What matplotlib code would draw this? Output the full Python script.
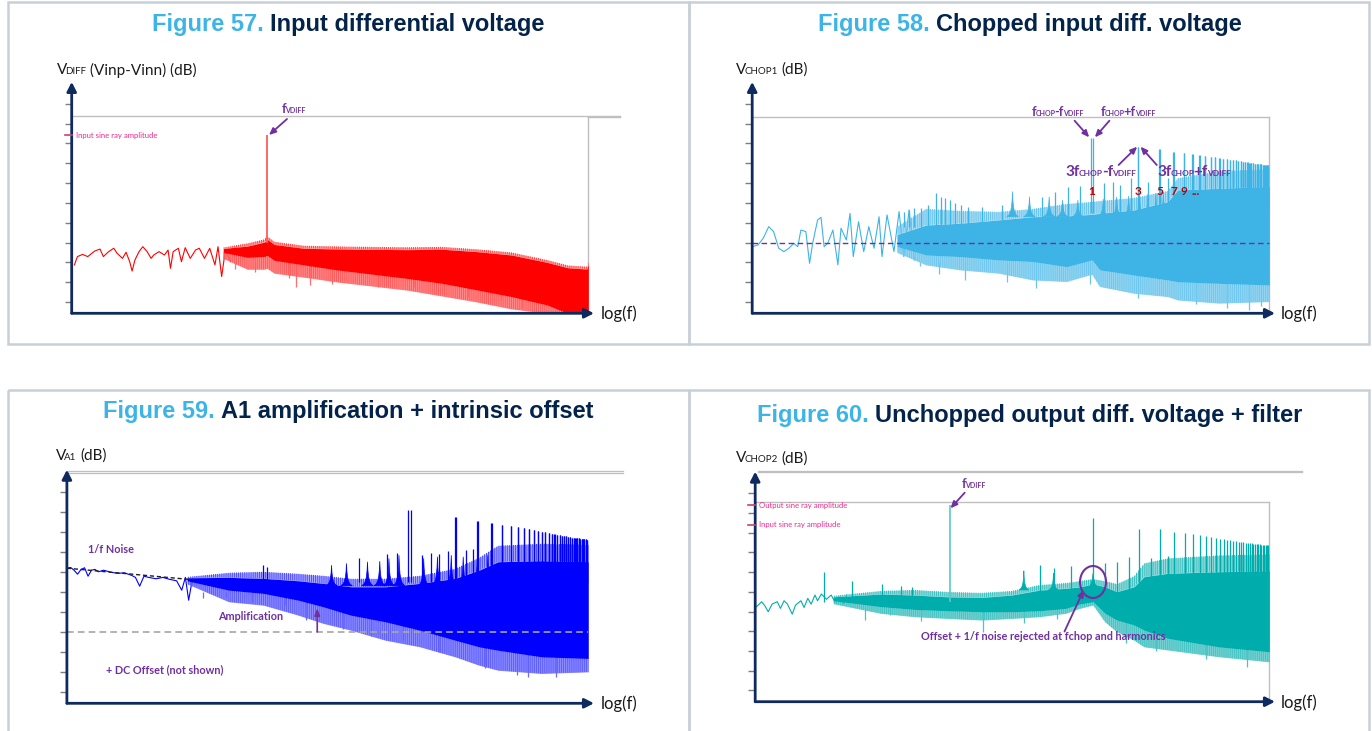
import numpy as np
import matplotlib
matplotlib.use("Agg")
import matplotlib.pyplot as plt
from matplotlib import transforms
from matplotlib.patches import Ellipse, Rectangle
from matplotlib.ticker import NullLocator

# ---------------------------------------------------------------------------
# Shared frequency / level frame
# ---------------------------------------------------------------------------
F_CHOP = 10000.0          # chopping frequency (Hz)
F_VDIFF = 320.0           # input sine frequency (Hz)
F_AXIS = (3.0, 790000.0)  # extent of the log(f) axis
F_END = 690000.0          # last frequency bin of the spectra
DB_AXIS = (-105.7, 11.0)
TICKS_DB = [0, -10, -20, -30, -40, -50, -60, -70, -80, -90, -100]
INPUT_RAY_DB = -16.0
OUTPUT_RAY_DB = -6.0
ODD_N = [1, 3, 5, 7, 9, 11, 13, 15, 17, 19, 21, 23, 25, 27, 29, 31, 33,
         35, 37, 39, 41, 43, 45, 47, 49, 51, 53, 55, 57, 59, 61, 63, 65, 67]

# ---------------------------------------------------------------------------
# Figure 57 - input differential voltage
# ---------------------------------------------------------------------------
p1_lf_f = [3.2, 3.44, 3.89, 4.4, 5.2, 5.9, 6.4, 7.25, 8.2, 8.9, 10.1, 11.0, 12.0,
           12.7, 13.6, 15.0, 16.4, 18.2, 20.0, 21.3, 24.2, 27.5, 30.0, 31.8, 33.9,
           38.4, 41.3, 45.2, 51.0, 57.9, 63.3, 71.7, 81.2, 92.0, 99.0, 108.0, 118.0, 134.0]
p1_lf_db = [-81.3, -77.1, -76.0, -77.1, -74.3, -73.3, -77.1, -74.6, -72.9, -75.5, -78.0,
            -74.9, -79.7, -84.4, -78.8, -74.6, -72.1, -74.6, -78.0, -76.3, -74.6, -76.3,
            -73.8, -83.0, -74.6, -72.9, -79.7, -72.6, -78.0, -73.8, -72.9, -78.0, -72.9,
            -81.3, -72.1, -87.2, -73.8, -79.7]
p1_band_f = [112, 200, 300, 320, 380, 770, 1750, 9000, 21000, 48000, 110000, 257000,
             420000, 665000, 690000]
p1_band_top = [-72.5, -70.4, -68.4, -66.8, -69.6, -71.6, -72.0, -72.4, -72.2, -73.4,
               -75.0, -78.8, -81.5, -82.2, -80.0]
p1_band_hi = [-73.0, -71.8, -69.8, -68.4, -71.0, -72.9, -73.3, -73.6, -73.4, -74.6,
              -76.3, -80.0, -82.7, -83.4, -81.0]
p1_band_lo = [-75.0, -77.5, -77.0, -76.5, -79.0, -81.3, -83.9, -88.1, -90.6, -93.9,
              -97.3, -101.5, -105.7, -105.7, -105.7]
p1_band_fringe = [-78.0, -83.5, -83.5, -83.0, -85.5, -87.5, -90.0, -94.0, -97.0, -100.0,
                  -103.5, -105.7, -105.7, -105.7, -105.7]
p1_dip_f = [150, 240, 540, 645, 890, 1500, 4500, 10800, 22000, 39000, 86000, 140000]
p1_dip_db = [-83.5, -85.0, -88.1, -92.3, -91.4, -91.0, -92.3, -92.3, -96.0, -97.3, -99.0,
             -103.0]

# ---------------------------------------------------------------------------
# Figure 58 - chopped input differential voltage
# ---------------------------------------------------------------------------
p2_lf_f = [3.0, 3.45, 3.9, 4.45, 5.0, 5.65, 6.4, 7.2, 8.1, 8.9, 9.6, 10.8, 11.8, 12.7,
           14.3, 15.5, 16.7, 18.2, 20.6, 23.2, 25.0, 28.4, 31.0, 33.5, 38.0, 43.0, 48.5,
           55.0, 62.0, 66.5, 75.0, 88.5, 100, 112, 127, 144]
p2_lf_db = [-72.1, -71.2, -67.9, -62.0, -64.5, -72.9, -74.6, -72.9, -70.4, -72.1, -63.7,
            -64.5, -80.5, -70.4, -58.6, -57.3, -72.1, -70.4, -63.7, -81.3, -62.8, -68.7,
            -55.3, -77.1, -59.5, -74.6, -62.0, -72.9, -57.0, -77.1, -56.1, -74.6, -54.4,
            -77.1, -53.6, -78.8]
p2_band_f = [95, 190, 425, 1080, 2430, 5450, 10000, 12000, 27100, 61000, 77500, 206000, 690000]
p2_band_top = [-62.0, -53.0, -54.0, -54.5, -53.0, -50.5, -49.5, -49.0, -47.5, -44.0, -37.5,
               -34.0, -33.0]
p2_band_hi = [-66.0, -61.2, -60.3, -58.6, -57.0, -56.6, -55.8, -55.3, -53.6, -49.4, -43.5,
              -42.7, -41.8]
p2_band_lo = [-72.0, -76.3, -77.1, -78.8, -79.6, -82.2, -78.8, -83.8, -86.4, -88.9, -89.8,
              -90.6, -91.4]
p2_band_fringe = [-75.0, -81.3, -83.8, -85.5, -88.9, -89.7, -86.0, -92.2, -95.6, -97.3,
                  -99.0, -100.6, -99.8]
p2_lobe_f = [1500, 2250, 3600, 4950, 7140, 13100, 18000, 24000, 31000, 38000, 46000, 55000]
p2_lobe_db = [-44.3, -46.9, -46.9, -48.6, -48.6, -48.0, -47.0, -46.5, -46.0, -45.5, -45.0, -44.5]
p2_minor_f = [112, 127, 144, 170, 198, 243, 270, 298, 335, 378, 443, 520, 720, 1170, 3050,
              4100, 5650, 7500, 13200, 16600, 19600, 25200, 37700, 61000]
p2_minor_db = [-54.4, -53.6, -52.8, -52.8, -51.1, -45.2, -46.9, -47.7, -48.6, -50.2, -51.1,
               -51.9, -51.9, -51.1, -46.9, -44.3, -42.2, -41.5, -40.1, -39.3, -41.0, -37.6,
               -39.3, -37.6]
p2_dip_f = [165, 260, 480, 1300, 2600, 9500, 30000, 120000, 250000, 420000, 560000]
p2_dip_db = [-82.0, -86.0, -89.0, -90.0, -93.0, -91.0, -98.0, -101.0, -103.0, -104.0, -102.0]
p2_harm_db = [-17.5, -21.7, -23.0, -24.2, -25.0, -25.6, -26.0, -26.4, -26.8, -27.1, -27.4,
              -27.7, -28.0, -28.2, -28.4, -28.6, -28.8, -29.0, -29.2, -29.4, -29.6, -29.8,
              -30.0, -30.1, -30.2, -30.3, -30.4, -30.5, -30.6, -30.7, -30.8, -30.9, -31.0, -31.1]
p2_ref_db = -70.0

# ---------------------------------------------------------------------------
# Figure 59 - A1 amplification + intrinsic offset
# ---------------------------------------------------------------------------
p3_lf_f = [3.0, 3.27, 3.55, 3.86, 4.2, 4.56, 4.95, 5.37, 5.83, 6.33, 7.15, 8.45, 9.97, 11.7,
           13.9, 15.2, 16.8, 18.6, 20.8, 24.8, 29.1, 34.3, 40.3, 45.5, 49.6, 53.6, 58.5]
p3_lf_db = [-38.3, -37.8, -39.2, -41.2, -38.8, -38.0, -42.2, -39.2, -38.8, -40.0, -39.2,
            -40.2, -40.8, -40.5, -41.8, -42.8, -47.2, -42.2, -42.8, -43.5, -42.8, -43.8,
            -44.5, -49.2, -42.8, -54.2, -43.8]
p3_band_f = [51.5, 139, 315, 720, 1300, 2500, 5650, 12800, 29500, 52000, 81500, 229000, 690000]
p3_band_top = [-42.6, -40.5, -40.0, -41.0, -42.0, -43.5, -43.5, -42.0, -38.5, -33.0, -27.0,
               -26.0, -26.5]
p3_band_hi = [-43.0, -42.8, -43.3, -44.5, -45.8, -47.5, -47.5, -45.8, -43.3, -39.2, -35.0,
              -34.5, -35.0]
p3_band_lo = [-44.5, -49.2, -50.8, -54.2, -57.5, -61.7, -65.0, -69.2, -74.2, -77.5, -79.2,
              -82.5, -83.3]
p3_band_fringe = [-46.0, -55.0, -56.7, -61.7, -65.8, -69.2, -74.2, -77.5, -82.5, -86.7,
                  -89.2, -90.8, -90.0]
p3_lobe_f = [1580, 2250, 3700, 4950, 6150, 7800, 14000, 19400, 26900, 35700, 50000, 64000]
p3_lobe_db = [-36.7, -35.8, -35.0, -34.7, -33.3, -31.7, -33.3, -32.5, -31.7, -32.5, -31.7, -31.7]
p3_minor_f = [310, 345, 3050, 5900, 7500, 13500, 16600, 20000, 25000, 38000, 45000]
p3_minor_db = [-36.7, -37.5, -33.0, -31.0, -30.5, -31.5, -30.5, -31.0, -29.5, -29.0, -28.5]
p3_harm_db = [-9.2, -12.8, -14.7, -15.8, -16.7, -17.2, -17.8, -18.3, -18.8, -19.2, -19.6,
              -20.0, -20.3, -20.6, -20.9, -21.2, -21.5, -21.7, -21.9, -22.1, -22.3, -22.5,
              -22.7, -22.9, -23.0, -23.1, -23.2, -23.3, -23.4, -23.5, -23.6, -23.7, -23.8, -23.9]
p3_dip_f = [75, 130, 240, 520, 860, 2050, 4000, 8500, 20000, 60000, 128000, 165000, 318000]
p3_dip_db = [-53.0, -52.5, -55.0, -56.7, -64.2, -68.8, -72.0, -74.2, -80.0, -88.0, -91.7,
             -92.5, -92.5]
p3_trend_f = [3.0, 60.0]          # 1/f trend guide
p3_trend_db = [-38.2, -44.0]
p3_floor_db = -70.0               # level before amplification
p3_gain_f = 1126.0
p3_gain_db = -58.3

# ---------------------------------------------------------------------------
# Figure 60 - unchopped output differential voltage + filter
# ---------------------------------------------------------------------------
p4_lf_f = [3.1, 3.5, 3.8, 4.1, 4.5, 5.1, 5.5, 6.0, 6.5, 7.3, 7.9, 9.0, 9.7, 10.6, 11.5,
           12.6, 13.4, 14.7, 16.6, 18.6, 20.3, 23.0, 24.8, 27.0]
p4_lf_db = [-57.5, -55.0, -57.2, -60.1, -56.2, -55.0, -58.4, -54.5, -56.2, -61.3, -56.7,
            -54.5, -57.9, -53.3, -56.2, -51.6, -54.5, -51.1, -53.8, -51.6, -55.0, -52.5,
            -56.2, -51.6]
p4_band_f = [19.5, 61, 137, 305, 700, 1420, 2780, 5200, 7250, 10000, 13300, 17700, 26800,
             34100, 60500, 204000, 690000]
p4_band_top = [-52.0, -49.5, -49.0, -50.0, -50.5, -49.5, -46.5, -45.5, -44.5, -43.5, -44.5,
               -46.0, -42.0, -35.5, -33.0, -31.5, -31.0]
p4_band_hi = [-52.5, -51.1, -51.6, -52.5, -52.8, -51.6, -49.1, -48.2, -47.5, -46.0, -47.4,
              -49.9, -47.4, -42.3, -40.6, -39.8, -39.3]
p4_band_lo = [-54.5, -57.5, -58.9, -59.6, -60.1, -60.1, -59.6, -58.4, -56.2, -55.0, -60.9,
              -64.3, -66.8, -69.4, -73.6, -77.9, -80.4]
p4_band_fringe = [-56.0, -60.9, -62.6, -63.5, -64.3, -63.5, -62.6, -60.9, -58.4, -56.7,
                  -65.2, -70.2, -74.5, -77.9, -79.5, -82.9, -85.5]
p4_lobe_f = [1900, 3870, 10000]
p4_lobe_db = [-39.3, -40.6, -40.5]
p4_lobe_width = [0.05, 0.05, 0.11]
p4_minor_f = [15.6, 31, 63, 99, 130, 2780, 3950, 5900, 13300, 17700, 23500, 40000, 60500]
p4_minor_db = [-40.1, -44.5, -46.2, -47.1, -47.7, -36.4, -38.1, -36.9, -35.5, -34.7, -32.2,
               -33.0, -31.8]
p4_harm_db = [-12.4, -18.1, -18.1, -19.5, -20.3, -20.9, -21.4, -21.9, -22.3, -22.7, -23.0,
              -23.3, -23.6, -23.9, -24.1, -24.3, -24.5, -24.7, -24.9, -25.1, -25.2, -25.3,
              -25.4, -25.5, -25.6, -25.7, -25.8, -25.9, -26.0, -26.05, -26.1, -26.15, -26.2, -26.25]
p4_dip_f = [42, 77, 160, 720, 1900, 4200, 22000, 45000, 150000, 400000]
p4_dip_db = [-64.3, -61.8, -65.0, -70.2, -66.0, -64.0, -76.0, -80.0, -84.0, -88.0]

# ---------------------------------------------------------------------------
# Styling
# ---------------------------------------------------------------------------
NAVY = "#0f2a5e"
TITLE_BLUE = "#3cb4e6"
TITLE_NAVY = "#03234b"
TICK_GRAY = "#7f7f7f"
BOX_GRAY = "#bfbfbf"
FRAME = "#c8d0d7"
PURPLE = "#7030a0"
PINK = "#f0288c"
PINK_TICK = "#c8406e"
DARK_RED = "#c00000"
TEXT = "#1a1a1a"
BODY = ["Lato", "DejaVu Sans"]
HEAD = ["Liberation Sans", "DejaVu Sans"]
plt.rcParams["hatch.linewidth"] = 0.6

W, H = 1372, 731
fig = plt.figure(figsize=(W / 100, H / 100), dpi=100)


def panel_axes(l, t, r, b):
    ax = fig.add_axes([l / W, 1 - b / H, (r - l) / W, (b - t) / H])
    ax.set_xscale("log")
    ax.set_xlim(*F_AXIS)
    ax.set_ylim(*DB_AXIS)
    ax.patch.set_visible(False)
    for s in ax.spines.values():
        s.set_visible(False)
    ax.xaxis.set_major_locator(NullLocator())
    ax.xaxis.set_minor_locator(NullLocator())
    ax.set_yticks(TICKS_DB)
    ax.tick_params(axis="y", direction="out", length=5.2, width=1.0,
                   color=TICK_GRAY, labelleft=False)
    kw = dict(arrowstyle="-|>,head_length=0.55,head_width=0.28", color=NAVY, lw=2.0,
              shrinkA=0, shrinkB=0, mutation_scale=10)
    ax.annotate("", xy=(0, 1), xytext=(0, 0), xycoords="axes fraction", arrowprops=kw, zorder=6)
    ax.annotate("", xy=(1, 0), xytext=(0, 0), xycoords="axes fraction", arrowprops=kw, zorder=6)
    return ax


def spectrum(ax, lf_f, lf_db, bf, top, hi, lo, fringe, color, light):
    ax.plot(lf_f, lf_db, color=color, lw=0.8, zorder=2)
    # sparse spike carpet above and below the dense noise core:
    # fine vertical texture, tinted by a translucent wash laid over it
    for a, b, alpha in [(hi, top, 0.6), (fringe, lo, 0.8)]:
        ax.fill_between(bf, a, b, facecolor="none", edgecolor=color, hatch="||||||||",
                        lw=0, zorder=1.95)
        ax.fill_between(bf, a, b, color=light, alpha=alpha, lw=0, zorder=2)
    ax.fill_between(bf, lo, hi, color=color, lw=0, zorder=2.2)


def lobes(ax, centers, peaks, base, color, widths=None):
    k = np.array([-1, -0.6, -0.35, -0.18, -0.07, 0, 0.07, 0.18, 0.35, 0.6, 1])
    shape = np.array([0, 0.08, 0.2, 0.38, 0.65, 1, 0.65, 0.38, 0.2, 0.08, 0])
    for i, (fc, pk) in enumerate(zip(centers, peaks)):
        w = 0.06 if widths is None else widths[i]
        ax.fill(fc * 10 ** (k * w), base + (pk - base) * shape, color=color,
                lw=0.5, ec=color, zorder=2.3)


def odd_harmonics(ax, tops, base, color, pair):
    n = np.array(ODD_N, dtype=float)
    if pair:
        f = np.concatenate([n * F_CHOP - F_VDIFF, n * F_CHOP + F_VDIFF])
        t = np.concatenate([tops, tops])
    else:
        f, t = n * F_CHOP, np.array(tops)
    ax.vlines(f, base, t, color=color, lw=0.9, zorder=2.4)


def pink_level(ax, level, label):
    tr = transforms.blended_transform_factory(ax.transAxes, ax.transData)
    ax.plot([-0.0135, 0], [level, level], color=PINK_TICK, lw=1.2, transform=tr,
            clip_on=False, zorder=7)
    ax.text(3.3, level, label, color=PINK, fontsize=5.6, family=BODY, va="center",
            ha="left", zorder=7)


# ---------------------------------------------------------------------------
# Panels
# ---------------------------------------------------------------------------
ax1 = panel_axes(71.7, 81.9, 594.0, 313.3)
ax2 = panel_axes(752.2, 81.9, 1275.0, 313.3)
ax3 = panel_axes(66.9, 469.7, 594.0, 703.3)
ax4 = panel_axes(755.2, 471.6, 1275.0, 701.7)

# --- Figure 57
C1, L1 = "#ff0000", "#ff6a6a"
ax1.plot([F_AXIS[0], 1.47e6], [-6.0, -6.0], color=BOX_GRAY, lw=1.0, clip_on=False, zorder=1)
ax1.plot([F_END, 1.47e6], [-6.7, -6.7], color=BOX_GRAY, lw=1.0, clip_on=False, zorder=1)
ax1.plot([F_END, F_END], [-6.7, DB_AXIS[0]], color=BOX_GRAY, lw=1.0, zorder=1)
ax1.vlines(p1_dip_f, p1_dip_db, -80.0, color="#ff6e6e", lw=0.9, zorder=1.9)
spectrum(ax1, p1_lf_f, p1_lf_db, p1_band_f, p1_band_top, p1_band_hi, p1_band_lo,
         p1_band_fringe, C1, L1)
ax1.vlines([F_VDIFF], -70.0, INPUT_RAY_DB, color="#ff5a5a", lw=1.3, zorder=2.5)
pink_level(ax1, INPUT_RAY_DB, "Input sine ray amplitude")

# --- Figure 58
C2, L2 = "#3db4e5", "#78caee"
ax2.plot([F_AXIS[0], F_END], [-6.9, -6.9], color=BOX_GRAY, lw=1.0, zorder=1)
ax2.plot([F_END, F_END], [-6.9, DB_AXIS[0]], color=BOX_GRAY, lw=1.0, zorder=1)
ax2.vlines(p2_dip_f, p2_dip_db, -80.0, color="#6cc6ec", lw=0.9, zorder=1.9)
ax2.vlines(p2_minor_f, -62.0, p2_minor_db, color=C2, lw=0.9, zorder=2.1)
spectrum(ax2, p2_lf_f, p2_lf_db, p2_band_f, p2_band_top, p2_band_hi, p2_band_lo,
         p2_band_fringe, C2, L2)
lobes(ax2, p2_lobe_f, p2_lobe_db, -57.0, C2)
odd_harmonics(ax2, p2_harm_db, -55.0, C2, pair=True)
ax2.plot([F_AXIS[0], F_END], [p2_ref_db, p2_ref_db], color=PURPLE, lw=1.0,
         ls=(0, (4, 2.5)), zorder=5)
for n, lab in [(1, "1"), (3, "3"), (5, "5"), (7, "7"), (9, "9")]:
    ax2.text(n * F_CHOP, -46.0, lab, color=DARK_RED, fontsize=8.5, fontweight="bold",
             family=BODY, ha="center", va="baseline", zorder=7)
ax2.text(11.9 * F_CHOP, -46.0, "...", color=DARK_RED, fontsize=8.5, fontweight="bold",
         family=BODY, ha="center", va="baseline", zorder=7)

# --- Figure 59
C3, L3 = "#0000ff", "#6e6eff"
ax3.plot([3.1, 1.57e6], [10.6, 10.6], color=BOX_GRAY, lw=0.9, clip_on=False, zorder=1)
ax3.plot([3.1, 1.57e6], [9.6, 9.6], color=BOX_GRAY, lw=0.9, clip_on=False, zorder=1)
ax3.vlines(p3_dip_f, p3_dip_db, -50.0, color="#6b6bff", lw=0.9, zorder=1.9)
ax3.vlines(p3_minor_f, -45.0, p3_minor_db, color=C3, lw=0.9, zorder=2.1)
spectrum(ax3, p3_lf_f, p3_lf_db, p3_band_f, p3_band_top, p3_band_hi, p3_band_lo,
         p3_band_fringe, C3, L3)
lobes(ax3, p3_lobe_f, p3_lobe_db, -47.0, C3)
odd_harmonics(ax3, p3_harm_db, -45.0, C3, pair=True)
ax3.plot(p3_trend_f, p3_trend_db, color="#202020", lw=1.0, ls=(0, (3, 2)), zorder=3)
ax3.plot([F_AXIS[0], F_END], [p3_floor_db, p3_floor_db], color="#a6a6a6", lw=1.2,
         ls=(0, (4, 2.5)), zorder=5)
ax3.annotate("", xy=(p3_gain_f, p3_gain_db), xytext=(p3_gain_f, p3_floor_db),
             arrowprops=dict(arrowstyle="-|>,head_length=0.5,head_width=0.2", color=PURPLE,
                             lw=1.2, shrinkA=0, shrinkB=0, mutation_scale=8), zorder=6)

# --- Figure 60
C4, L4 = "#00adad", "#52c6c6"
ax4.plot([3.2, 1.52e6], [11.5, 11.5], color=BOX_GRAY, lw=0.9, clip_on=False, zorder=1)
ax4.plot([3.2, 1.52e6], [10.6, 10.6], color=BOX_GRAY, lw=0.9, clip_on=False, zorder=1)
ax4.plot([F_AXIS[0], F_END], [-4.3, -4.3], color=BOX_GRAY, lw=1.0, zorder=1)
ax4.plot([F_END, F_END], [-4.3, DB_AXIS[0]], color=BOX_GRAY, lw=1.0, zorder=1)
ax4.vlines(p4_dip_f, p4_dip_db, -58.0, color="#4cc4c4", lw=0.9, zorder=1.9)
ax4.vlines(p4_minor_f, -55.0, p4_minor_db, color=C4, lw=0.9, zorder=2.1)
spectrum(ax4, p4_lf_f, p4_lf_db, p4_band_f, p4_band_top, p4_band_hi, p4_band_lo,
         p4_band_fringe, C4, L4)
lobes(ax4, p4_lobe_f, p4_lobe_db, -49.0, C4, widths=p4_lobe_width)
odd_harmonics(ax4, p4_harm_db, -50.0, C4, pair=False)
ax4.vlines([F_VDIFF], -55.0, OUTPUT_RAY_DB, color="#5cc8c8", lw=1.2, zorder=2.5)
pink_level(ax4, OUTPUT_RAY_DB, "Output sine ray amplitude")
pink_level(ax4, INPUT_RAY_DB, "Input sine ray amplitude")
ring = fig.dpi_scale_trans + transforms.ScaledTranslation(F_CHOP, -45.0, ax4.transData)
ax4.add_patch(Ellipse((0, 0), 0.26, 0.32, transform=ring, fill=False, ec=PURPLE,
                      lw=1.5, zorder=8, clip_on=False))

# ---------------------------------------------------------------------------
# Overlay in pixel units: frames, titles, labels, call-outs
# ---------------------------------------------------------------------------
ax0 = fig.add_axes([0, 0, 1, 1])
ax0.set_xlim(0, W)
ax0.set_ylim(H, 0)
ax0.axis("off")

for x, y, w, h in [(8, 1.5, 681, 342), (689, 1.5, 680, 342), (8, 390, 681, 345), (689, 390, 680, 345)]:
    ax0.add_patch(Rectangle((x, y), w, h, fill=False, ec=FRAME, lw=1.8))

REND = fig.canvas.get_renderer()


def rich(x, y, parts, ha="left", va="baseline"):
    placed, cur = [], 0.0
    for text, size, color, weight, family, gap in parts:
        cur += gap
        t = ax0.text(0, y, text, fontsize=size, color=color, fontweight=weight,
                     family=family, ha="left", va=va)
        placed.append((t, cur))
        cur += t.get_window_extent(REND).width
    x0 = x - cur / 2 if ha == "center" else x
    for t, off in placed:
        t.set_x(x0 + off)


def title(cx, y, num, words):
    rich(cx, y, [(num, 17, TITLE_BLUE, "bold", HEAD, 0),
                 (words, 17, TITLE_NAVY, "bold", HEAD, 6.5)], ha="center")


title(348.5, 30.5, "Figure 57.", "Input differential voltage")
title(1030, 30.5, "Figure 58.", "Chopped input diff. voltage")
title(348.5, 418, "Figure 59.", "A1 amplification + intrinsic offset")
title(1030, 422, "Figure 60.", "Unchopped output diff. voltage + filter")


def ylabel(x, y, sub, rest):
    rich(x, y, [("V", 11, TEXT, "normal", BODY, 0),
                (sub, 7, TEXT, "normal", BODY, -2.0),
                (rest, 11, TEXT, "normal", BODY, 4.0)])


ylabel(57, 74.5, "DIFF", "(Vinp-Vinn) (dB)")
ylabel(735.7, 73.5, "CHOP1", "(dB)")
ylabel(56, 460, "A1", "(dB)")
ylabel(735.7, 462.5, "CHOP2", "(dB)")

for x, y in [(601, 314), (1281, 314), (601, 704), (1281, 703)]:
    ax0.text(x, y, "log(f)", fontsize=12, color=TEXT, family=BODY, ha="left", va="center")


def freq_label(x, y, parts, big):
    small = big * 0.55
    out = []
    for i, p in enumerate(parts):
        sz = big if i % 2 == 0 else small
        out.append((p, sz, PURPLE, "bold", BODY, 0 if i == 0 else -0.8))
    rich(x, y, out)


freq_label(281.7, 113.3, ["f", "VDIFF"], 9.2)
freq_label(1031.5, 116.0, ["f", "CHOP", "-f", "VDIFF"], 9.2)
freq_label(1100.5, 116.0, ["f", "CHOP", "+f", "VDIFF"], 9.2)
freq_label(1065.5, 175.5, ["3f", "CHOP", "-f", "VDIFF"], 11.0)
freq_label(1157.0, 175.5, ["3f", "CHOP", "+f", "VDIFF"], 11.0)
freq_label(961.4, 488.5, ["f", "VDIFF"], 9.2)

arrow_kw = dict(arrowstyle="-|>,head_length=0.5,head_width=0.22", color=PURPLE, lw=1.3,
                shrinkA=0, shrinkB=0, mutation_scale=8)
for (x0, y0), (x1, y1) in [((287, 119), (269, 135)),
                           ((1074.6, 120.7), (1089.2, 137.3)),
                           ((1109.4, 120.7), (1094.9, 137.3)),
                           ((1118.6, 165), (1137.2, 146.7)),
                           ((1156.8, 165), (1140.5, 146.7)),
                           ((964.7, 492.7), (950.5, 508.3)),
                           ((1064.5, 631.5), (1083.7, 590))]:
    ax0.annotate("", xy=(x1, y1), xytext=(x0, y0), arrowprops=arrow_kw)

for x, y, s in [(88, 553, "1/f Noise"), (217.7, 620.5, "Amplification"),
                (106.4, 673, "+ DC Offset (not shown)"),
                (920.8, 640, "Offset + 1/f noise rejected at fchop and harmonics")]:
    ax0.text(x, y, s, fontsize=7.8, color=PURPLE, fontweight="bold", family=BODY,
             ha="left", va="baseline")

fig.savefig("out.png", dpi=100)
